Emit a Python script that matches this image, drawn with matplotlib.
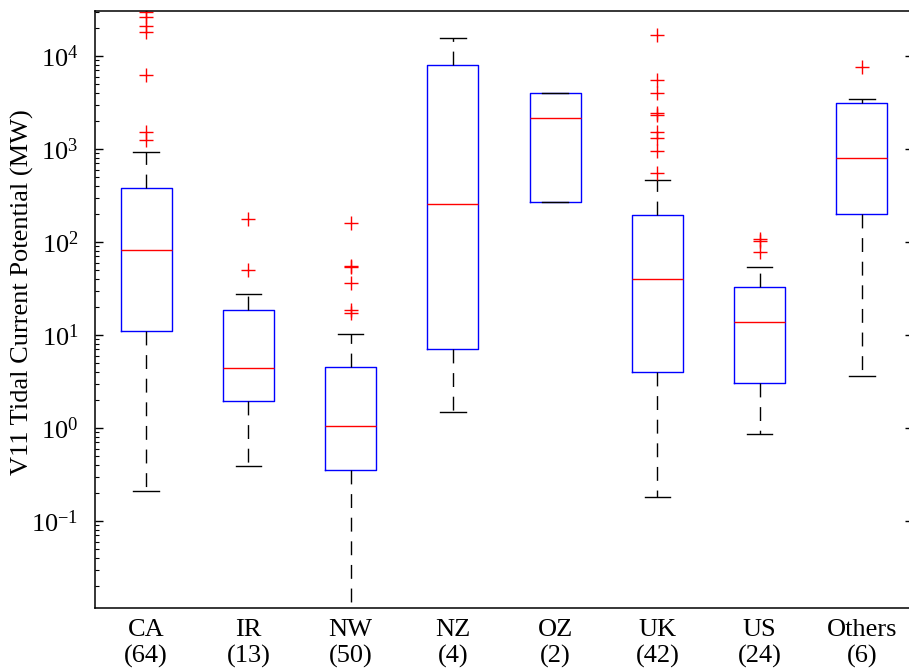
import numpy as np
import matplotlib
matplotlib.use("Agg")
import matplotlib.pyplot as plt
from matplotlib.ticker import FixedLocator, LogLocator, NullFormatter

plt.rcParams['font.family'] = ['Liberation Serif', 'DejaVu Serif']
plt.rcParams['mathtext.fontset'] = 'custom'
plt.rcParams['mathtext.rm'] = 'Liberation Serif'
plt.rcParams['mathtext.it'] = 'Liberation Serif:italic'

# regions and sample counts
regions = ["CA", "IR", "NW", "NZ", "OZ", "UK", "US", "Others"]
counts = [64, 13, 50, 4, 2, 42, 24, 6]

# box statistics (MW)
q1 = [11.0, 1.94, 0.356, 7.0, 270, 4.03, 3.05, 200]
med = [83, 4.39, 1.06, 254, 2140, 40.3, 13.9, 806]
q3 = [384, 18.6, 4.5, 7940, 3960, 194, 32.6, 3150]
whis_lo = [0.21, 0.39, 0.005, 1.49, 270, 0.183, 0.862, 3.65]
whis_hi = [929, 27.6, 10.2, 15500, 3960, 464, 54.3, 3450]
outliers = [
    [29500, 26500, 21200, 18200, 6200, 1535, 1250],
    [175, 50],
    [160, 55.6, 53.5, 36, 18.6, 17.4],
    [],
    [],
    [16700, 5520, 3960, 2420, 2320, 1510, 1300, 951, 556],
    [108, 103, 78.5],
    [7680],
]
yticks = [1e-1, 1e0, 1e1, 1e2, 1e3, 1e4]

stats = []
for i in range(len(regions)):
    stats.append(dict(med=med[i], q1=q1[i], q3=q3[i],
                      whislo=whis_lo[i], whishi=whis_hi[i],
                      fliers=outliers[i]))

fig = plt.figure(figsize=(9.09, 6.71), dpi=100)
ax = fig.add_axes([95 / 909, 63 / 671, 818 / 909, 597 / 671])

ax.bxp(stats, positions=np.arange(1, len(regions) + 1), widths=0.5,
       showfliers=True,
       boxprops=dict(color='blue', linewidth=1.0),
       medianprops=dict(color='red', linewidth=1.0),
       whiskerprops=dict(color='black', linewidth=1.0, linestyle=(0, (10, 7))),
       capprops=dict(color='black', linewidth=1.0),
       flierprops=dict(marker='+', markeredgecolor='red', markersize=10,
                       markeredgewidth=1.0, linestyle='none'))

ax.set_yscale('log')
ax.set_ylim(0.0116, 30500)
ax.set_xlim(0.5, 8.5)

ax.set_xticks(np.arange(1, len(regions) + 1))
ax.set_xticklabels([f"{r}\n({n})" for r, n in zip(regions, counts)])
ax.tick_params(axis='x', length=0, pad=8, labelsize=19)

ax.yaxis.set_major_locator(FixedLocator(yticks))
ax.yaxis.set_minor_locator(LogLocator(base=10, subs=np.arange(2, 10), numticks=20))
ax.yaxis.set_minor_formatter(NullFormatter())
ax.tick_params(axis='y', which='major', direction='in', length=6, width=1.0,
               right=True, labelsize=19, pad=12)
ax.tick_params(axis='y', which='minor', direction='in', length=3, width=0.8,
               right=True)

for sp in ax.spines.values():
    sp.set_linewidth(1.1)

ax.set_ylabel("V11 Tidal Current Potential (MW)", fontsize=19)
ax.yaxis.set_label_coords(-0.074, 0.529)

fig.savefig("out.png", dpi=100)
